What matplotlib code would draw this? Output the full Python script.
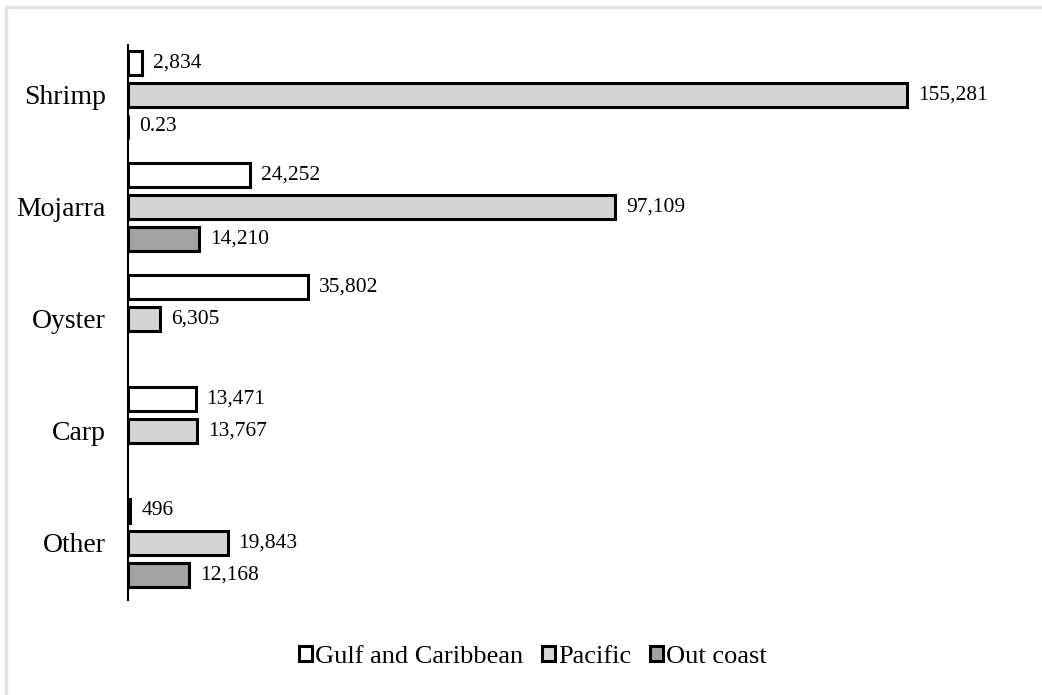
import numpy as np
import matplotlib
matplotlib.use("Agg")
import matplotlib.pyplot as plt
from matplotlib.patches import Patch
from matplotlib.lines import Line2D

categories = ["Shrimp", "Mojarra", "Oyster", "Carp", "Other"]
series_names = ["Gulf and Caribbean", "Pacific", "Out coast"]
gulf = [2834, 24252, 35802, 13471, 496]
pacific = [155281, 97109, 6305, 13767, 19843]
out_coast = [0.23, 14210, np.nan, np.nan, 12168]
labels_gulf = ["2,834", "24,252", "35,802", "13,471", "496"]
labels_pacific = ["155,281", "97,109", "6,305", "13,767", "19,843"]
labels_out = ["0.23", "14,210", "", "", "12,168"]

colors = ["#ffffff", "#d4d4d4", "#a3a3a3"]

plt.rcParams['font.family'] = ['Liberation Serif', 'DejaVu Serif']

W, H = 1042, 695
fig = plt.figure(figsize=(W / 100, H / 100), dpi=100)
# axes in pixel coords: left 128, right 1000, top 45, bottom 600
ax = fig.add_axes([128 / W, (H - 600) / H, (1000 - 128) / W, (600 - 45) / H])

y = np.arange(len(categories))
offset = 32 / 112
height = 24 / 112
series = [gulf, pacific, out_coast]
labs = [labels_gulf, labels_pacific, labels_out]
for i, (vals, lab, col) in enumerate(zip(series, labs, colors)):
    pos = y + (i - 1) * offset
    v = np.array(vals, dtype=float)
    ax.barh(pos, v, height=height, color=col, edgecolor="black",
            linewidth=2.2, label=series_names[i])
    for p, val, t in zip(pos, v, lab):
        if np.isnan(val) or t == "":
            continue
        ax.text(val + 2200, p, t, va="center", ha="left", fontsize=15.5)

ax.set_xlim(0, 173800)
ax.set_ylim(4.51, -0.446)
ax.set_yticks(y)
ax.set_yticklabels(categories, fontsize=20)
ax.tick_params(axis="y", length=0, pad=16)
ax.set_xticks([])
for s in ["top", "right", "bottom"]:
    ax.spines[s].set_visible(False)
ax.spines["left"].set_linewidth(1.5)

handles = [Patch(facecolor=c, edgecolor="black", linewidth=2.2) for c in colors]
fig.legend(handles, series_names, loc="center", bbox_to_anchor=(533 / W, 1 - 657 / H),
           ncol=3, frameon=False, fontsize=19, handlelength=0.5, handleheight=0.5,
           handletextpad=0.12, columnspacing=0.7)

# light gray frame lines (top and left)
fig.add_artist(Line2D([6 / W, 1.0], [1 - 7 / H, 1 - 7 / H], color="#e3e3e3", linewidth=2.5,
                      transform=fig.transFigure))
fig.add_artist(Line2D([6 / W, 6 / W], [0, 1 - 7 / H], color="#e3e3e3", linewidth=2.5,
                      transform=fig.transFigure))

fig.savefig("out.png", dpi=100)
